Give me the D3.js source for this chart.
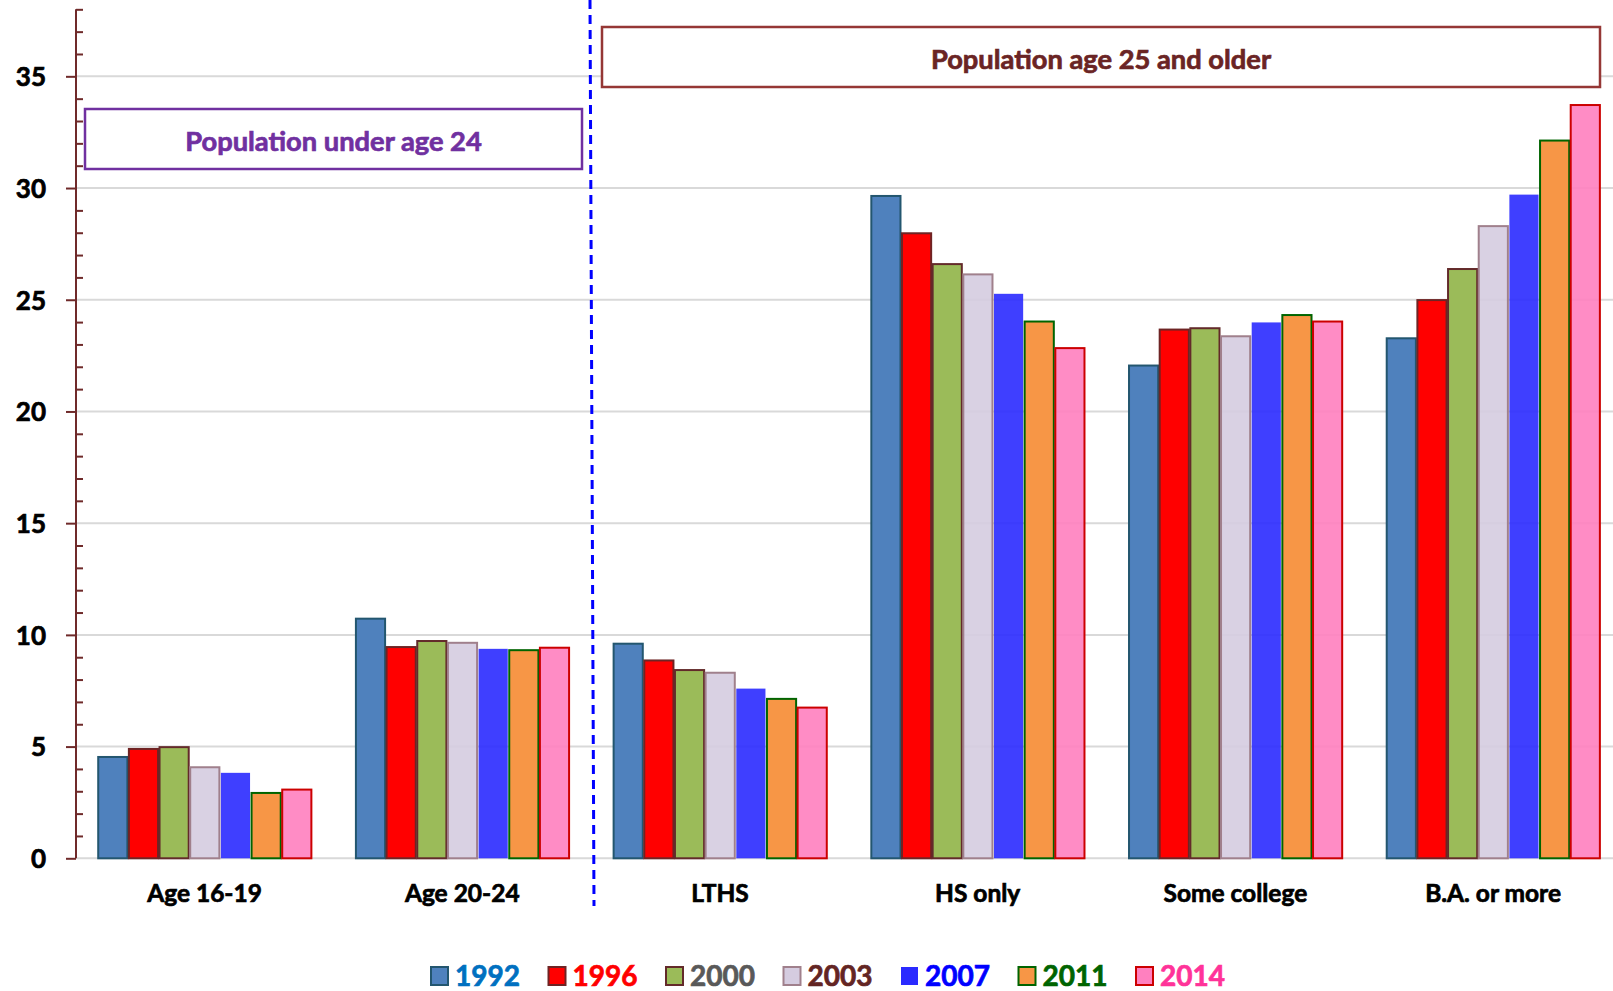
<!DOCTYPE html>
<html>
<head>
<meta charset="utf-8">
<script src="https://cdn.jsdelivr.net/npm/d3@7"></script>
<style>
  html, body { margin: 0; padding: 0; background: #fff; overflow: hidden; }
  svg { display: block; font-family: Lato, "Open Sans", sans-serif; }
</style>
</head>
<body>
<svg id="chart" width="1613" height="991"></svg>
<script>
// ---- data ----
const categories = ["Age 16-19", "Age 20-24", "LTHS", "HS only", "Some college", "B.A. or more"];
const years = ["1992", "1996", "2000", "2003", "2007", "2011", "2014"];
const v1992 = [4.58, 10.77, 9.65, 29.69, 22.10, 23.32];
const v1996 = [4.94, 9.50, 8.90, 28.02, 23.71, 25.03];
const v2000 = [5.02, 9.77, 8.47, 26.64, 23.77, 26.42];
const v2003 = [4.12, 9.69, 8.35, 26.18, 23.41, 28.34];
const v2007 = [3.87, 9.42, 7.64, 25.31, 24.03, 29.75];
const v2011 = [2.97, 9.36, 7.18, 24.07, 24.36, 32.17];
const v2014 = [3.12, 9.47, 6.79, 22.88, 24.07, 33.76];
const yTicks = [0, 5, 10, 15, 20, 25, 30, 35];
const groupLabels = ["Population under age 24", "Population age 25 and older"];

const seriesValues = [v1992, v1996, v2000, v2003, v2007, v2011, v2014];

// ---- styles ----
const fills   = ["#4f81bd", "#ff0000", "#9bbb59", "#d5cce0", "#2a2aff", "#f79646", "#ff80bf"];
const strokes = ["#23566f", "#6e2424", "#632a2a", "#a0808c", "#2a2aff", "#006400", "#cc0000"];
const textCols= ["#0070c0", "#ff0000", "#595959", "#632523", "#0000ff", "#006400", "#ff3399"];

const svg = d3.select("#chart");
const W = 1613, H = 991;

const x0 = d3.scaleBand().domain(categories).range([75.7, 1621.9]).paddingInner(0.167).paddingOuter(0.0835);
const x1 = d3.scaleBand().domain(years).range([0, x0.bandwidth()]).padding(0);
const y = d3.scaleLinear().domain([0, 38]).range([858.3, 9.3]);

const axisCol = "#6f2a2a";

function heavy(sel, col) {
  sel.attr("stroke", col).attr("stroke-width", 0.7).attr("paint-order", "stroke");
}

// gridlines
svg.append("g").selectAll("line").data(yTicks).join("line")
  .attr("x1", 76).attr("x2", W)
  .attr("y1", d => y(d)).attr("y2", d => y(d))
  .attr("stroke", "#d9d9d9").attr("stroke-width", 2);

// bars
const groups = svg.append("g").selectAll("g").data(categories).join("g")
  .attr("transform", d => `translate(${x0(d)},0)`);

groups.selectAll("rect")
  .data((c, ci) => years.map((yr, si) => ({ yr, si, v: seriesValues[si][ci] })))
  .join("rect")
  .attr("x", d => x1(d.yr) + 1)
  .attr("width", x1.bandwidth() - 1.5)
  .attr("y", d => y(d.v) + 1)
  .attr("height", d => y(0) - y(d.v) - 1)
  .attr("fill", d => fills[d.si])
  .attr("fill-opacity", d => (d.si === 3 || d.si === 6 || d.si === 4) ? 0.9 : 1)
  .attr("stroke", d => strokes[d.si])
  .attr("stroke-opacity", d => d.si === 4 ? 0 : 1)
  .attr("stroke-width", 2);

// y axis
const yAxisMajor = d3.axisLeft(y).tickValues(yTicks).tickSize(10).tickFormat(d3.format("d"));
const ax = svg.append("g").attr("transform", "translate(76,0)").call(yAxisMajor);
ax.select(".domain").attr("stroke", axisCol).attr("stroke-width", 2).attr("d", `M0,${y(38)}V${y(0)}`);
ax.selectAll(".tick line").attr("stroke", axisCol).attr("stroke-width", 2);
ax.selectAll(".tick text")
  .attr("x", -30).attr("dy", "0.36em")
  .attr("fill", "#000").attr("font-family", "Lato, sans-serif")
  .attr("font-weight", 700).attr("font-size", 26)
  .call(heavy, "#000");

const minor = d3.range(1, 39).filter(v => v % 5 !== 0);
const yAxisMinor = d3.axisRight(y).tickValues(minor).tickSize(7).tickFormat("");
const axm = svg.append("g").attr("transform", "translate(76,0)").call(yAxisMinor);
axm.select(".domain").remove();
axm.selectAll(".tick line").attr("stroke", axisCol).attr("stroke-width", 2);

// x axis labels
const xAxis = d3.axisBottom(x0).tickSize(0).tickPadding(0);
const xa = svg.append("g").attr("transform", `translate(0,${y(0)})`).call(xAxis);
xa.select(".domain").remove();
xa.selectAll(".tick text")
  .attr("y", 44).attr("dy", 0)
  .attr("fill", "#000").attr("font-family", "Lato, sans-serif")
  .attr("font-weight", 700).attr("font-size", 24.5)
  .call(heavy, "#000");

// dashed divider
svg.append("line")
  .attr("x1", 590).attr("y1", 0).attr("x2", 594).attr("y2", 906)
  .attr("stroke", "#0000ff").attr("stroke-width", 3)
  .attr("stroke-dasharray", "9,6");

// annotation boxes
const boxes = [
  { x: 85, y: 109, w: 497, h: 60, stroke: "#7030a0", text: "#7030a0", label: groupLabels[0] },
  { x: 602, y: 27, w: 998, h: 60, stroke: "#953735", text: "#6a2424", label: groupLabels[1] }
];
const bg = svg.append("g").selectAll("g").data(boxes).join("g");
bg.append("rect")
  .attr("x", d => d.x).attr("y", d => d.y).attr("width", d => d.w).attr("height", d => d.h)
  .attr("fill", "#fff").attr("stroke", d => d.stroke).attr("stroke-width", 2.5);
bg.append("text")
  .attr("x", d => d.x + d.w / 2).attr("y", d => d.y + d.h / 2 + 2).attr("dy", "0.36em")
  .attr("text-anchor", "middle").attr("fill", d => d.text)
  .attr("font-weight", 700).attr("font-size", 27.3)
  .each(function(d) { d3.select(this).call(heavy, d.text); })
  .text(d => d.label);

// legend
const legX = d3.scalePoint().domain(years).range([430, 1135]);
const lg = svg.append("g").selectAll("g").data(years).join("g")
  .attr("transform", d => `translate(${legX(d)},0)`);
lg.append("rect")
  .attr("x", 1).attr("y", 967).attr("width", 17).attr("height", 18)
  .attr("fill", (d, i) => fills[i]).attr("stroke", (d, i) => strokes[i])
  .attr("stroke-opacity", (d, i) => i === 4 ? 0 : 1)
  .attr("stroke-width", 2);
lg.append("text")
  .attr("x", 25).attr("y", 986)
  .attr("fill", (d, i) => textCols[i])
  .attr("font-weight", 700).attr("font-size", 28)
  .each(function(d, i) { d3.select(this).call(heavy, textCols[i]); })
  .text(d => d);
</script>
</body>
</html>
